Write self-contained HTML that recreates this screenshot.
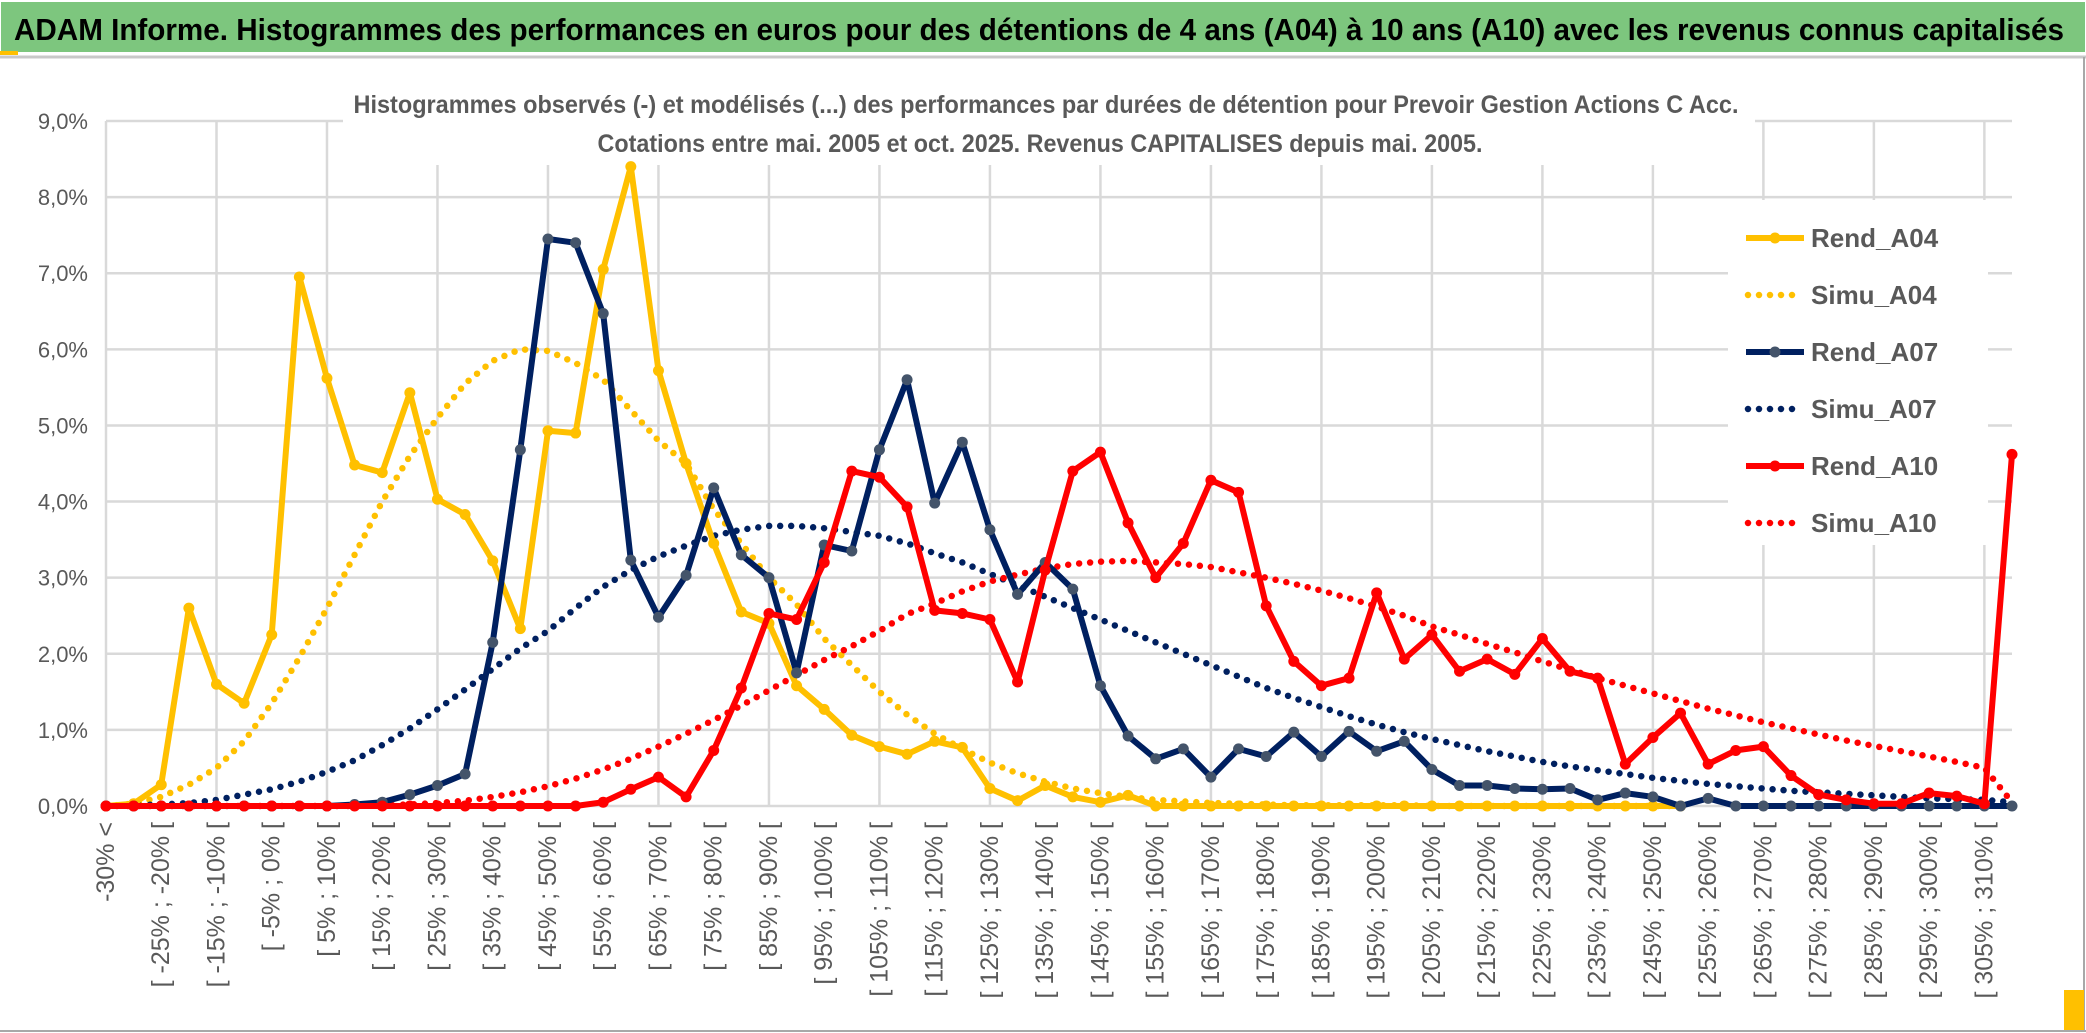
<!DOCTYPE html>
<html><head><meta charset="utf-8">
<style>
html,body{margin:0;padding:0;background:#fff;}
svg{display:block;font-family:"Liberation Sans",sans-serif;}
</style></head>
<body>
<svg id="chart" width="2086" height="1033" viewBox="0 0 2086 1033" xmlns="http://www.w3.org/2000/svg">
  <rect x="0" y="0" width="2086" height="1033" fill="#ffffff"/>
  <rect x="1" y="2" width="2084" height="50" fill="#7dc67e"/>
  <rect x="0" y="51" width="18" height="4" fill="#ffc000"/>
  <line x1="0" y1="57" x2="2086" y2="57" stroke="#c8c8c8" stroke-width="3"/>
  <text x="14" y="40" font-size="31" font-weight="bold" fill="#000" textLength="2050" lengthAdjust="spacingAndGlyphs">ADAM Informe. Histogrammes des performances en euros pour des détentions de 4 ans (A04) à 10 ans (A10) avec les revenus connus capitalisés</text>
  <rect x="2083" y="57" width="2" height="974" fill="#a8a8a8"/>
  <rect x="0" y="1030" width="2086" height="2" fill="#a8a8a8"/>
  <rect x="2064" y="990" width="20" height="40" fill="#ffc000"/>
  <g id="grid"></g>
  <g id="yaxis"></g>
  <g id="xaxis"></g>
  <rect x="343" y="60" width="1412" height="105" fill="#fff"/>
  <text x="1046" y="113" font-size="25" font-weight="bold" fill="#595959" text-anchor="middle" textLength="1385" lengthAdjust="spacingAndGlyphs">Histogrammes observés (-) et modélisés (...) des performances par durées de détention pour Prevoir Gestion Actions C Acc.</text>
  <text x="1040" y="152" font-size="25" font-weight="bold" fill="#595959" text-anchor="middle" textLength="885" lengthAdjust="spacingAndGlyphs">Cotations entre mai. 2005 et oct. 2025. Revenus CAPITALISES depuis mai. 2005.</text>
  <rect x="1728" y="200" width="260" height="345" fill="#fff"/>
  <g id="series"></g>
  <g id="legend"></g>
</svg>
<script>
const categoryCount = 70;
const yTicks = [0,1,2,3,4,5,6,7,8,9];
const yTickLabels = ["0,0%","1,0%","2,0%","3,0%","4,0%","5,0%","6,0%","7,0%","8,0%","9,0%"];
const rendA04 = [0,0.03,0.28,2.6,1.6,1.35,2.25,6.95,5.62,4.48,4.38,5.43,4.03,3.83,3.22,2.33,4.93,4.9,7.05,8.4,5.72,4.5,3.45,2.55,2.4,1.58,1.27,0.93,0.78,0.68,0.85,0.77,0.23,0.07,0.27,0.12,0.05,0.14,0,0,0,0,0,0,0,0,0,0,0,0,0,0,0,0,0,0,0,0,null,null,null,null,null,null,null,null,null,null,null,null];
const simuA04 = [0,0.03,0.12,0.28,0.5,0.85,1.35,1.95,2.6,3.3,4.0,4.6,5.1,5.55,5.85,6.0,5.98,5.82,5.6,5.2,4.8,4.5,3.9,3.45,3.0,2.65,2.2,1.85,1.5,1.2,0.95,0.75,0.57,0.43,0.32,0.23,0.17,0.12,0.08,0.06,0.04,0.03,0.02,0.01,0.01,0.01,0.01,0.01,0,0,0,0,0,0,0,0,0,0,null,null,null,null,null,null,null,null,null,null,null,null];
const rendA07 = [0,0,0,0,0,0,0,0,0,0.02,0.05,0.15,0.27,0.42,2.15,4.68,7.45,7.4,6.47,3.23,2.48,3.03,4.18,3.3,3.0,1.75,3.43,3.35,4.68,5.6,3.98,4.78,3.63,2.78,3.2,2.85,1.58,0.92,0.62,0.75,0.38,0.75,0.65,0.97,0.65,0.98,0.72,0.85,0.48,0.27,0.27,0.23,0.22,0.23,0.08,0.17,0.12,0,0.1,0,0,0,0,0,0,0,0,0,0,0];
const simuA07 = [0,0.01,0.02,0.04,0.08,0.15,0.22,0.32,0.45,0.6,0.8,1.02,1.27,1.53,1.8,2.07,2.3,2.6,2.88,3.1,3.28,3.42,3.55,3.63,3.68,3.68,3.65,3.6,3.55,3.45,3.32,3.2,3.05,2.9,2.75,2.6,2.45,2.3,2.15,2.0,1.85,1.7,1.55,1.42,1.3,1.18,1.07,0.97,0.88,0.8,0.72,0.65,0.58,0.52,0.47,0.42,0.37,0.33,0.29,0.26,0.23,0.2,0.18,0.16,0.14,0.12,0.1,0.09,0.08,0.05];
const rendA10 = [0,0,0,0,0,0,0,0,0,0,0,0,0,0,0,0,0,0,0.05,0.22,0.38,0.12,0.73,1.55,2.53,2.45,3.2,4.4,4.32,3.93,2.57,2.53,2.45,1.63,3.1,4.4,4.65,3.72,3.0,3.45,4.28,4.12,2.63,1.9,1.58,1.68,2.8,1.93,2.25,1.77,1.93,1.73,2.2,1.77,1.68,0.55,0.9,1.22,0.55,0.73,0.78,0.4,0.15,0.08,0.03,0.03,0.17,0.13,0.03,4.62];
const simuA10 = [0,0,0,0,0,0,0,0,0,0,0.01,0.02,0.04,0.07,0.12,0.18,0.26,0.36,0.48,0.62,0.78,0.95,1.13,1.32,1.52,1.72,1.92,2.1,2.3,2.52,2.66,2.82,2.95,3.04,3.12,3.18,3.21,3.22,3.2,3.18,3.14,3.07,3.0,2.92,2.83,2.73,2.62,2.5,2.36,2.25,2.13,2.02,1.9,1.79,1.68,1.58,1.48,1.38,1.28,1.19,1.1,1.02,0.94,0.86,0.79,0.72,0.65,0.58,0.5,0.05];

const NS = "http://www.w3.org/2000/svg";
const X0 = 106, X1 = 2012, Y0 = 806, Y9 = 121;
function xPos(i){ return X0 + i*(X1-X0)/(categoryCount-1); }
function yPos(v){ return Y0 - v*(Y0-Y9)/9; }
function mk(tag, attrs, parent){ const e=document.createElementNS(NS,tag); for(const k in attrs) e.setAttribute(k,attrs[k]); parent.appendChild(e); return e; }
function catLabel(i){ if(i===0) return "-30% <"; const lo=-35+5*i; return "[ "+lo+"% ; "+(lo+5)+"% ["; }

const grid=document.getElementById('grid');
yTicks.forEach(t=>{
  const l=mk('line',{x1:X0,x2:X1,y1:yPos(t),y2:yPos(t),stroke:'#d9d9d9','stroke-width':2.5},grid);
  
  
});
for(let i=0;i<categoryCount;i+=4){
  const l=mk('line',{x1:xPos(i),x2:xPos(i),y1:Y9,y2:Y0,stroke:'#d9d9d9','stroke-width':2.5},grid);
  
  
}
const ya=document.getElementById('yaxis');
yTicks.forEach((t,k)=>{
  const tx=mk('text',{x:88,y:yPos(t)+8,'font-size':22,fill:'#595959','text-anchor':'end'},ya);
  tx.textContent=yTickLabels[k];
  
  
});
const xa=document.getElementById('xaxis');
for(let i=0;i<categoryCount;i+=2){
  const x=xPos(i)+8, y=822;
  const tx=mk('text',{x:x,y:y,'font-size':25,fill:'#595959','text-anchor':'end',transform:'rotate(-90 '+x+' '+y+')'},xa);
  tx.textContent=catLabel(i);
  
  
}
const sg=document.getElementById('series');
function pathOf(arr){
  let d='',pen=false;
  arr.forEach((v,i)=>{ if(v===null){pen=false;return;} d+=(pen?'L':'M')+xPos(i).toFixed(1)+' '+yPos(v).toFixed(1)+' '; pen=true; });
  return d;
}
function drawSimu(arr,color,name){
  const p=mk('path',{d:pathOf(arr),fill:'none',stroke:color,'stroke-width':6.5,'stroke-linecap':'round','stroke-dasharray':'0 11'},sg);
  
  
}
function drawRend(arr,color,markerColor,name){
  const g=mk('g',{},sg);
  
  
  mk('path',{d:pathOf(arr),fill:'none',stroke:color,'stroke-width':6,'stroke-linejoin':'round'},g);
  arr.forEach((v,i)=>{ if(v===null) return;
    const c=mk('circle',{cx:xPos(i),cy:yPos(v),r:5.5,fill:markerColor},g);
    
    
  });
}
drawSimu(simuA04,'#ffc000','simu-a04-line');
drawSimu(simuA07,'#002060','simu-a07-line');
drawSimu(simuA10,'#ff0000','simu-a10-line');
drawRend(rendA04,'#ffc000','#ffc000','rend-a04-line');
drawRend(rendA07,'#002060','#44546a','rend-a07-line');
drawRend(rendA10,'#ff0000','#ff0000','rend-a10-line');

const legendItems=[['Rend_A04','#ffc000','#ffc000',false],['Simu_A04','#ffc000',null,true],['Rend_A07','#002060','#44546a',false],['Simu_A07','#002060',null,true],['Rend_A10','#ff0000','#ff0000',false],['Simu_A10','#ff0000',null,true]];
const lg=document.getElementById('legend');
legendItems.forEach((it,k)=>{
  const y=238+k*57;
  const g=mk('g',{},lg);
  
  
  if(it[3]) mk('line',{x1:1748,x2:1802,y1:y,y2:y,stroke:it[1],'stroke-width':6.5,'stroke-linecap':'round','stroke-dasharray':'0 11'},g);
  else { mk('line',{x1:1746,x2:1804,y1:y,y2:y,stroke:it[1],'stroke-width':6},g); mk('circle',{cx:1775,cy:y,r:5.5,fill:it[2]},g); }
  const t=mk('text',{x:1811,y:y+9,'font-size':26,fill:'#595959','font-weight':'bold'},g);
  t.textContent=it[0];
});
</script>
</body></html>
